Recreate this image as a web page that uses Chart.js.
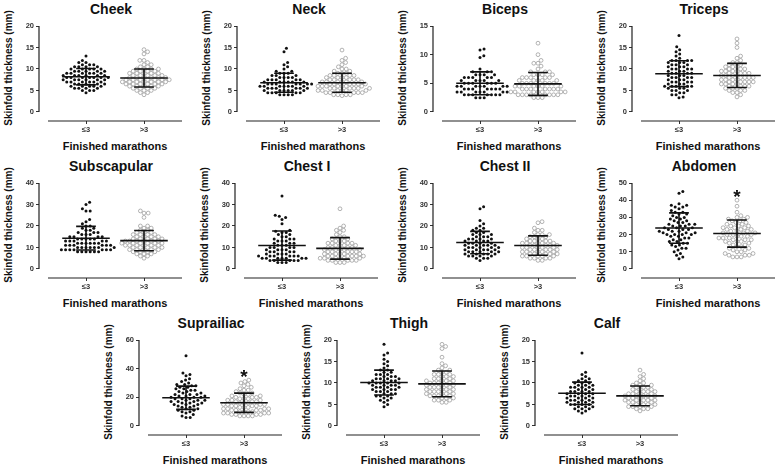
<!DOCTYPE html>
<html lang="en">
<head>
<meta charset="UTF-8">
<title>Skinfold thickness by finished marathons</title>
<script src="https://cdn.jsdelivr.net/npm/chart.js"></script>
<style>
  body { margin: 0; background: #fff; font-family: "Liberation Sans", Arial, sans-serif; }
  #wrap { position: relative; width: 777px; height: 464px; overflow: hidden; }
  #wrap canvas { position: absolute; }
  .t { position: absolute; font-weight: bold; color: #111; white-space: nowrap; transform: translate(-50%, -50%); }
  .title { font-size: 14px; }
  .ylab { font-size: 10px; transform: translate(-50%, -50%) rotate(-90deg); }
  .xlab { font-size: 11px; }
</style>
</head>
<body>
<div id="wrap"></div>

<script>
  // ---- data ----
  const groups = ['≤3', '>3'];
  const panelNames = ['Cheek', 'Neck', 'Biceps', 'Triceps', 'Subscapular', 'Chest I', 'Chest II', 'Abdomen', 'Suprailiac', 'Thigh', 'Calf'];
  const yLabel = 'Skinfold thickness (mm)';
  const xLabel = 'Finished marathons';

  const yTicks = [
    [0, 5, 10, 15, 20], [0, 5, 10, 15, 20], [0, 5, 10, 15], [0, 5, 10, 15, 20],
    [0, 10, 20, 30, 40], [0, 10, 20, 30, 40], [0, 10, 20, 30, 40], [0, 10, 20, 30, 40, 50],
    [0, 20, 40, 60], [0, 5, 10, 15, 20], [0, 5, 10, 15, 20]
  ];

  // mean and SD per group (≤3, >3)
  const means = [[8.2, 7.9], [6.8, 6.8], [5.0, 4.9], [8.9, 8.5], [14.3, 13.2], [10.9, 9.6], [12.3, 10.9], [23.8, 20.6], [19.7, 16.2], [10.1, 9.8], [7.6, 7.0]];
  const sds = [[1.9, 2.1], [2.2, 2.2], [2.0, 2.0], [3.0, 2.8], [5.5, 4.7], [6.8, 5.0], [5.2, 4.5], [8.8, 7.9], [8.1, 6.7], [2.9, 3.0], [2.6, 2.3]];

  // significance marks: [group index, value]
  const sigMarks = [null, null, null, null, null, null, null, [1, 45], [1, 38], null, null];

  const cheekLow = [13, 12, 11.5, 11.5, 11, 11, 11, 10.5, 10.5, 10.5, 10.5, 10, 10, 10, 10, 10, 9.5, 9.5, 9.5, 9.5, 9.5, 9, 9, 9, 9, 9, 9, 8.5, 8.5, 8.5, 8.5, 8.5, 8.5, 8, 8, 8, 8, 8, 8, 8, 7.5, 7.5, 7.5, 7.5, 7.5, 7.5, 7, 7, 7, 7, 7, 7, 6.5, 6.5, 6.5, 6.5, 6.5, 6, 6, 6, 6, 6, 5.5, 5.5, 5.5, 5.5, 5, 5, 5, 4.5];
  const cheekHigh = [14.5, 14, 13.5, 12, 12, 11.5, 11, 11, 10.5, 10.5, 10, 10, 10, 10, 9.5, 9.5, 9.5, 9.5, 9, 9, 9, 9, 9, 8.5, 8.5, 8.5, 8.5, 8.5, 8, 8, 8, 8, 8, 8, 7.5, 7.5, 7.5, 7.5, 7.5, 7.5, 7.5, 7, 7, 7, 7, 7, 7, 7, 6.5, 6.5, 6.5, 6.5, 6.5, 6.5, 6, 6, 6, 6, 6, 5.5, 5.5, 5.5, 5.5, 5, 5, 5, 4.5, 4.5, 4];
  const neckLow = [14.8, 14, 11.5, 11, 10.5, 10, 9.5, 9.5, 9, 9, 9, 8.5, 8.5, 8.5, 8, 8, 8, 8, 7.5, 7.5, 7.5, 7.5, 7.5, 7, 7, 7, 7, 7, 7, 6.5, 6.5, 6.5, 6.5, 6.5, 6.5, 6.5, 6, 6, 6, 6, 6, 6, 6, 5.5, 5.5, 5.5, 5.5, 5.5, 5.5, 5, 5, 5, 5, 5, 5, 4.5, 4.5, 4.5, 4.5, 4.5, 4, 4, 4, 4];
  const neckHigh = [14.4, 12.5, 12, 11.5, 11, 10.5, 10, 10, 9.5, 9.5, 9, 9, 9, 8.5, 8.5, 8.5, 8.5, 8, 8, 8, 8, 7.5, 7.5, 7.5, 7.5, 7.5, 7, 7, 7, 7, 7, 7, 6.5, 6.5, 6.5, 6.5, 6.5, 6.5, 6, 6, 6, 6, 6, 6, 6, 5.5, 5.5, 5.5, 5.5, 5.5, 5.5, 5, 5, 5, 5, 5, 5, 4.5, 4.5, 4.5, 4.5, 4.5, 4, 4, 4, 4, 3.8];
  const bicepsLow = [11, 10.8, 9.8, 9.5, 7.5, 7, 7, 7, 6.5, 6.5, 6.5, 6.5, 6, 6, 6, 6, 6, 5.5, 5.5, 5.5, 5.5, 5.5, 5, 5, 5, 5, 5, 5, 4.5, 4.5, 4.5, 4.5, 4.5, 4.5, 4.5, 4, 4, 4, 4, 4, 4, 4, 3.5, 3.5, 3.5, 3.5, 3.5, 3.5, 3.5, 3, 3, 3, 3, 3, 3, 3, 2.5, 2.5, 2.5];
  const bicepsHigh = [12, 10, 9, 8.5, 8.5, 8, 7.5, 7, 7, 7, 6.5, 6.5, 6.5, 6.5, 6, 6, 6, 6, 6, 5.5, 5.5, 5.5, 5.5, 5.5, 5, 5, 5, 5, 5, 5, 4.5, 4.5, 4.5, 4.5, 4.5, 4.5, 4, 4, 4, 4, 4, 4, 4, 3.5, 3.5, 3.5, 3.5, 3.5, 3.5, 3.5, 3, 3, 3, 3, 3, 3, 3, 3, 2.5, 2.5, 2.5];
  const tricepsLow = [17.8, 15.2, 14.5, 14, 13.5, 13, 12.5, 12, 12, 12, 12, 11.5, 11.5, 11.5, 11, 11, 11, 10.5, 10.5, 10.5, 10, 10, 10, 10, 9.5, 9.5, 9.5, 9, 9, 9, 9, 8.5, 8.5, 8.5, 8, 8, 8, 8, 7.5, 7.5, 7.5, 7, 7, 7, 7, 6.5, 6.5, 6.5, 6, 6, 6, 6, 6, 5.5, 5.5, 5.5, 5, 5, 5, 4.5, 4.5, 4, 4, 3.5, 3.3];
  const tricepsHigh = [17, 16, 15, 13, 12.5, 12, 11.5, 11.5, 11, 11, 10.5, 10.5, 10.5, 10, 10, 10, 9.5, 9.5, 9.5, 9.5, 9, 9, 9, 9, 8.5, 8.5, 8.5, 8.5, 8, 8, 8, 8, 8, 7.5, 7.5, 7.5, 7.5, 7, 7, 7, 7, 7, 6.5, 6.5, 6.5, 6.5, 6, 6, 6, 6, 5.5, 5.5, 5.5, 5, 5, 5, 4.5, 4.5, 4, 3.5];
  const subscapularLow = [31, 30, 28, 27, 27, 23, 22, 21, 20, 20, 19, 19, 18, 18, 17, 17, 17, 16, 16, 16, 15, 15, 15, 15, 14, 14, 14, 14, 14, 13, 13, 13, 13, 13, 12, 12, 12, 12, 12, 12, 11, 11, 11, 11, 11, 11, 10, 10, 10, 10, 10, 10, 10, 9, 9, 9, 9, 9, 9, 9, 8, 8, 8, 8, 8, 8];
  const subscapularHigh = [27, 26, 26, 24, 20, 20, 19, 19, 18, 18, 17, 17, 17, 16, 16, 16, 16, 15, 15, 15, 15, 14, 14, 14, 14, 14, 13, 13, 13, 13, 13, 13, 12, 12, 12, 12, 12, 12, 11, 11, 11, 11, 11, 11, 10, 10, 10, 10, 10, 9, 9, 9, 9, 9, 8, 8, 8, 8, 7, 7, 7, 6, 6, 5];
  const chest1Low = [34, 25, 24.5, 24, 23, 21, 18, 17.5, 17, 17, 16, 16, 15, 15, 14, 14, 14, 13, 13, 13, 12, 12, 12, 11, 11, 11, 10, 10, 10, 10, 9, 9, 9, 9, 8, 8, 8, 8, 7, 7, 7, 7, 6, 6, 6, 6, 6, 6, 5, 5, 5, 5, 5, 5, 5, 4, 4, 4, 4, 4, 3, 3, 3];
  const chest1High = [28, 20, 19, 18, 18, 17, 16, 15, 15, 14, 14, 13, 13, 13, 12, 12, 12, 12, 11, 11, 11, 11, 10, 10, 10, 10, 9, 9, 9, 9, 9, 8, 8, 8, 8, 8, 7, 7, 7, 7, 7, 6, 6, 6, 6, 6, 6, 5, 5, 5, 5, 5, 5, 4, 4, 4, 4, 4, 3, 3, 3];
  const chest2Low = [29, 28, 22.5, 21, 20, 19, 19, 18, 18, 17, 17, 16, 16, 16, 15, 15, 15, 14, 14, 14, 14, 13, 13, 13, 13, 12, 12, 12, 12, 11, 11, 11, 11, 11, 10, 10, 10, 10, 10, 9, 9, 9, 9, 9, 8, 8, 8, 8, 8, 7, 7, 7, 7, 7, 6, 6, 6, 6, 5, 5, 5, 4];
  const chest2High = [22, 21.5, 19, 18, 18, 17, 16, 16, 16, 15, 15, 15, 14, 14, 14, 13, 13, 13, 13, 12, 12, 12, 12, 12, 11, 11, 11, 11, 11, 10, 10, 10, 10, 10, 9, 9, 9, 9, 9, 8, 8, 8, 8, 8, 7, 7, 7, 7, 7, 6, 6, 6, 6, 6, 5, 5, 5, 5, 4, 4];
  const abdomenLow = [45, 44, 38, 37, 37, 36, 36, 35, 34, 33, 33, 32, 32, 31, 30, 30, 29, 29, 28, 28, 27, 27, 26, 26, 26, 25, 25, 25, 24, 24, 24, 23, 23, 23, 22, 22, 22, 21, 21, 21, 20, 20, 20, 20, 19, 19, 18, 18, 17, 17, 16, 16, 15, 15, 14, 14, 13, 12, 12, 11, 10, 9, 8, 7, 6];
  const abdomenHigh = [40, 36.5, 33, 31, 30, 30, 29, 29, 28, 28, 27, 27, 26, 26, 25, 25, 25, 24, 24, 24, 23, 23, 23, 22, 22, 22, 21, 21, 21, 20, 20, 20, 19, 19, 19, 18, 18, 18, 17, 17, 17, 16, 16, 16, 15, 15, 14, 14, 13, 13, 12, 12, 11, 11, 10, 10, 9, 9, 8, 8, 8, 7, 7, 7];
  const suprailiacLow = [49, 37, 36, 35, 33, 32, 31, 30, 29, 29, 28, 28, 27, 27, 26, 26, 25, 25, 24, 24, 23, 23, 22, 22, 22, 21, 21, 21, 20, 20, 20, 19, 19, 19, 18, 18, 18, 17, 17, 17, 16, 16, 16, 15, 15, 15, 14, 14, 13, 13, 12, 12, 11, 11, 10, 10, 9, 8, 7, 6, 6];
  const suprailiacHigh = [32, 31, 30, 29, 28, 27, 26, 25, 25, 24, 23, 23, 22, 22, 21, 21, 20, 20, 20, 19, 19, 19, 18, 18, 18, 17, 17, 17, 16, 16, 16, 15, 15, 15, 15, 14, 14, 14, 14, 13, 13, 13, 12, 12, 12, 12, 11, 11, 11, 11, 10, 10, 10, 10, 9, 9, 9, 9, 8, 8, 8, 8, 7, 7, 7, 7];
  const thighLow = [19, 17, 16.5, 15.5, 15, 14.5, 14, 13.5, 13, 13, 12.5, 12.5, 12, 12, 12, 11.5, 11.5, 11.5, 11, 11, 11, 11, 10.5, 10.5, 10.5, 10.5, 10, 10, 10, 10, 10, 9.5, 9.5, 9.5, 9.5, 9, 9, 9, 9, 8.5, 8.5, 8.5, 8.5, 8, 8, 8, 7.5, 7.5, 7.5, 7, 7, 7, 6.5, 6.5, 6, 6, 5.5, 5, 4.5];
  const thighHigh = [19, 18.5, 18, 16, 14.5, 14, 13.5, 13, 13, 12.5, 12.5, 12, 12, 12, 11.5, 11.5, 11.5, 11, 11, 11, 10.5, 10.5, 10.5, 10.5, 10, 10, 10, 10, 9.5, 9.5, 9.5, 9.5, 9, 9, 9, 9, 8.5, 8.5, 8.5, 8.5, 8, 8, 8, 8, 7.5, 7.5, 7.5, 7.5, 7, 7, 7, 7, 6.5, 6.5, 6.5, 6, 6, 6, 5.5, 5.5];
  const calfLow = [17, 12.5, 12, 11.5, 11, 11, 10.5, 10.5, 10, 10, 10, 9.5, 9.5, 9.5, 9, 9, 9, 9, 8.5, 8.5, 8.5, 8, 8, 8, 8, 7.5, 7.5, 7.5, 7.5, 7, 7, 7, 7, 6.5, 6.5, 6.5, 6.5, 6, 6, 6, 6, 5.5, 5.5, 5.5, 5.5, 5, 5, 5, 5, 4.5, 4.5, 4.5, 4, 4, 4, 3.5, 3.5, 3];
  const calfHigh = [13, 12, 11.5, 11, 10.5, 10, 10, 9.5, 9.5, 9.5, 9, 9, 9, 8.5, 8.5, 8.5, 8, 8, 8, 8, 7.5, 7.5, 7.5, 7.5, 7, 7, 7, 7, 7, 6.5, 6.5, 6.5, 6.5, 6, 6, 6, 6, 6, 5.5, 5.5, 5.5, 5.5, 5, 5, 5, 5, 4.5, 4.5, 4.5, 4.5, 4, 4, 4, 3.5];

  const values = [
    [cheekLow, cheekHigh], [neckLow, neckHigh], [bicepsLow, bicepsHigh], [tricepsLow, tricepsHigh],
    [subscapularLow, subscapularHigh], [chest1Low, chest1High], [chest2Low, chest2High], [abdomenLow, abdomenHigh],
    [suprailiacLow, suprailiacHigh], [thighLow, thighHigh], [calfLow, calfHigh]
  ];

  // ---- layout (page pixels) ----
  const axisX = [39, 237, 433, 632, 39, 235, 433, 632, 139, 337, 535];
  const rowTop = [0, 0, 0, 0, 157, 157, 157, 157, 314, 314, 314];
  const CW = 190, CH = 120;      // canvas size
  const AREA_W = 143;            // plot area width
  const PX_PER_CAT = 58;         // distance between the two groups
  const Y_SPAN = 86;             // px from 0 to axis max
  const DOT = 4.2;               // collision distance for the swarm

  Chart.defaults.font.family = '"Liberation Sans", Arial, sans-serif';
  Chart.defaults.color = '#222';

  // simple beeswarm: spread equal/near values sideways, returns px offsets
  function swarm(vals, pxPerUnit) {
    const placed = [];
    const offs = new Array(vals.length);
    const order = vals.map((v, i) => i).sort((a, b) => vals[a] - vals[b]);
    for (const i of order) {
      const y = vals[i] * pxPerUnit;
      const near = placed.filter(p => Math.abs(p.y - y) < DOT);
      const cands = [0];
      near.forEach(p => {
        const dx = Math.sqrt(DOT * DOT - (p.y - y) * (p.y - y));
        cands.push(p.x + dx, p.x - dx);
      });
      cands.sort((a, b) => Math.abs(a) - Math.abs(b));
      let best = 0;
      for (const c of cands) {
        if (near.every(p => (p.x - c) ** 2 + (p.y - y) ** 2 >= DOT * DOT - 0.01)) { best = c; break; }
      }
      placed.push({ x: best, y });
      offs[i] = best;
    }
    return offs;
  }

  // Prism-like detached axes + significance star
  const prismAxes = {
    id: 'prismAxes',
    afterDraw(chart) {
      const { ctx, chartArea, scales: { x, y } } = chart;
      const p = chart.options.plugins.prismAxes;
      ctx.save();
      ctx.strokeStyle = '#222';
      ctx.lineWidth = 1.2;
      ctx.beginPath();
      ctx.moveTo(chartArea.left, y.getPixelForValue(y.max));
      ctx.lineTo(chartArea.left, y.getPixelForValue(0));
      ctx.moveTo(chartArea.left + 9, chartArea.bottom);
      ctx.lineTo(chartArea.right, chartArea.bottom);
      ctx.stroke();
      if (p.sig) {
        ctx.fillStyle = '#111';
        ctx.font = 'bold 19px "Liberation Sans", Arial, sans-serif';
        ctx.textAlign = 'center';
        ctx.textBaseline = 'alphabetic';
        ctx.fillText('*', x.getPixelForValue(p.sig[0] + 1), y.getPixelForValue(p.sig[1]) + 11);
      }
      ctx.restore();
    }
  };

  const wrap = document.getElementById('wrap');

  function addText(cls, txt, cx, cy) {
    const d = document.createElement('div');
    d.className = 't ' + cls;
    d.textContent = txt;
    d.style.left = cx + 'px';
    d.style.top = cy + 'px';
    wrap.appendChild(d);
  }

  panelNames.forEach((name, p) => {
    const ax = axisX[p], top = rowTop[p];
    const ticks = yTicks[p];
    const yMax = ticks[ticks.length - 1];
    const xMin = 1 - 47 / PX_PER_CAT;
    const xMax = xMin + AREA_W / PX_PER_CAT;

    addText('title', name, ax + 72, top + 9);
    addText('ylab', yLabel, ax - 31, top + 68);
    addText('xlab', xLabel, ax + 76, top + 146);

    const cv = document.createElement('canvas');
    cv.width = CW; cv.height = CH;
    cv.style.left = (ax - 38) + 'px';
    cv.style.top = (top + 18) + 'px';
    wrap.appendChild(cv);

    const bars = [0, 1].map(g => {
      const c = g + 1, m = means[p][g], s = sds[p][g];
      return {
        data: [
          { x: c - 0.41, y: m }, { x: c + 0.41, y: m }, { x: c, y: null },
          { x: c, y: m - s }, { x: c, y: m + s }, { x: c, y: null },
          { x: c - 0.17, y: m + s }, { x: c + 0.17, y: m + s }, { x: c, y: null },
          { x: c - 0.17, y: m - s }, { x: c + 0.17, y: m - s }
        ],
        showLine: true, spanGaps: false, pointRadius: 0,
        borderColor: '#111', borderWidth: 1.6
      };
    });

    const pts = [0, 1].map(g => {
      const vals = values[p][g];
      const offs = swarm(vals, Y_SPAN / yMax);
      return {
        data: vals.map((v, i) => ({ x: g + 1 + offs[i] / PX_PER_CAT, y: v })),
        showLine: false,
        pointRadius: g ? 1.9 : 1.5,
        pointBackgroundColor: g ? 'rgba(255,255,255,0)' : '#111',
        pointBorderColor: g ? '#a0a0a0' : '#111',
        pointBorderWidth: g ? 0.8 : 0
      };
    });

    new Chart(cv, {
      type: 'scatter',
      data: { datasets: [...bars, ...pts] },
      options: {
        responsive: false,
        animation: false,
        events: [],
        layout: { padding: { top: 8, right: CW - 38 - AREA_W, left: 0, bottom: 0 } },
        plugins: {
          legend: { display: false },
          tooltip: { enabled: false },
          prismAxes: { sig: sigMarks[p] }
        },
        scales: {
          x: {
            type: 'linear', min: xMin, max: xMax,
            afterBuildTicks: s => { s.ticks = [{ value: 1 }, { value: 2 }]; },
            afterFit: s => { s.height = 17; },
            ticks: {
              callback: v => groups[v - 1],
              font: { size: 7.5, weight: 'bold' }, color: '#333',
              padding: 1, maxRotation: 0, autoSkip: false
            },
            grid: { drawOnChartArea: false, drawTicks: true, tickLength: 3, color: '#333' },
            border: { display: false }
          },
          y: {
            min: -yMax * 0.105, max: yMax,
            afterBuildTicks: s => { s.ticks = ticks.map(v => ({ value: v })); },
            afterFit: s => { s.width = 38; },
            ticks: { font: { size: 7.5, weight: 'bold' }, color: '#333', padding: 2 },
            grid: { drawOnChartArea: false, drawTicks: true, tickLength: 3, color: '#333' },
            border: { display: false }
          }
        }
      },
      plugins: [prismAxes]
    });
  });
</script>
</body>
</html>
